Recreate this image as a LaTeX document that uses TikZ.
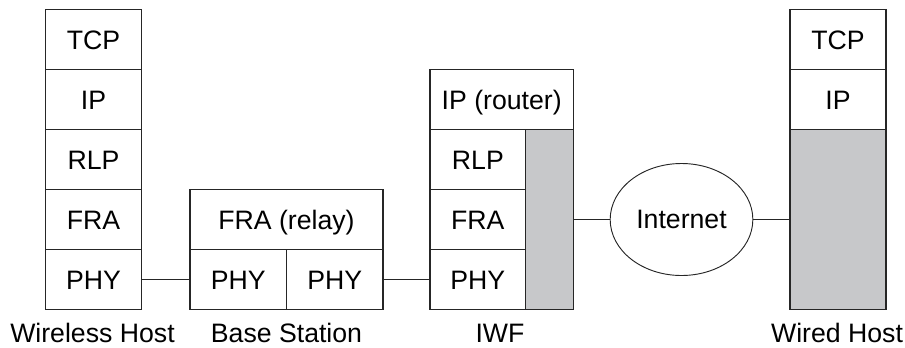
\documentclass[tikz,border=0pt]{standalone}
\usepackage{fontspec}
\setmainfont{Liberation Sans}
\usetikzlibrary{shapes.geometric}
\definecolor{layergray}{RGB}{199,200,202}
\begin{document}
\begin{tikzpicture}[x=0.75pt,y=-0.75pt,
  cell/.style={draw=black!85,line width=0.9pt,rectangle,inner sep=0pt,
    font=\fontsize{20}{24}\selectfont,text height=14.5pt,text depth=0pt},
  graycell/.style={draw=black!85,line width=0.9pt,rectangle,inner sep=0pt,fill=layergray},
  link/.style={draw=black!85,line width=0.9pt},
  caption/.style={anchor=base,inner sep=0pt,font=\fontsize{20}{24}\selectfont}]
\useasboundingbox (0,0) rectangle (905,347);
% Wireless Host
\node[cell,minimum width=72pt,minimum height=45pt] (wtcp) at (93.5,39.5) {TCP};
\node[cell,minimum width=72pt,minimum height=45pt] (wip) at (93.5,99.5) {IP};
\node[cell,minimum width=72pt,minimum height=45pt] (wrlp) at (93.5,159.5) {RLP};
\node[cell,minimum width=72pt,minimum height=45pt] (wfra) at (93.5,219.5) {FRA};
\node[cell,minimum width=72pt,minimum height=45pt] (wphy) at (93.5,279.5) {PHY};
% Base Station
\node[cell,minimum width=144.75pt,minimum height=45pt] (bfra) at (286.5,219.5) {FRA (relay)};
\node[cell,minimum width=72.375pt,minimum height=45pt] (bphya) at (238.25,279.5) {PHY};
\node[cell,minimum width=72.375pt,minimum height=45pt] (bphyb) at (334.75,279.5) {PHY};
% IWF
\node[cell,minimum width=107.6pt,minimum height=45pt] (iip) at (501.75,99.5) {IP (router)};
\node[cell,minimum width=71.8pt,minimum height=45pt] (irlp) at (477.85,159.5) {RLP};
\node[cell,minimum width=71.8pt,minimum height=45pt] (ifra) at (477.85,219.5) {FRA};
\node[cell,minimum width=71.8pt,minimum height=45pt] (iphy) at (477.85,279.5) {PHY};
\node[graycell,minimum width=35.85pt,minimum height=135pt] (igray) at (549.6,219.5) {};
% Internet
\node[draw=black!85,line width=0.7pt,ellipse,inner sep=0pt,minimum width=107pt,minimum height=84pt,
  font=\fontsize{20}{24}\selectfont] (inet) at (681.5,219.5) {Internet};
% Wired Host
\node[cell,minimum width=72pt,minimum height=45pt] (htcp) at (838,39.5) {TCP};
\node[cell,minimum width=72pt,minimum height=45pt] (hip) at (838,99.5) {IP};
\node[graycell,minimum width=72pt,minimum height=135pt] (hgray) at (838,219.5) {};
% Links
\draw[link] (wphy.east) -- (bphya.west);
\draw[link] (bphyb.east) -- (iphy.west);
\draw[link] (igray.east) -- (inet.west);
\draw[link] (inet.east) -- (hgray.west);
% Captions
\node[caption] (lw) at (92.5,342) {Wireless Host};
\node[caption] (lb) at (286.5,342) {Base Station};
\node[caption] (li) at (500,342) {IWF};
\node[caption] (lh) at (837,342) {Wired Host};
\end{tikzpicture}
\end{document}
